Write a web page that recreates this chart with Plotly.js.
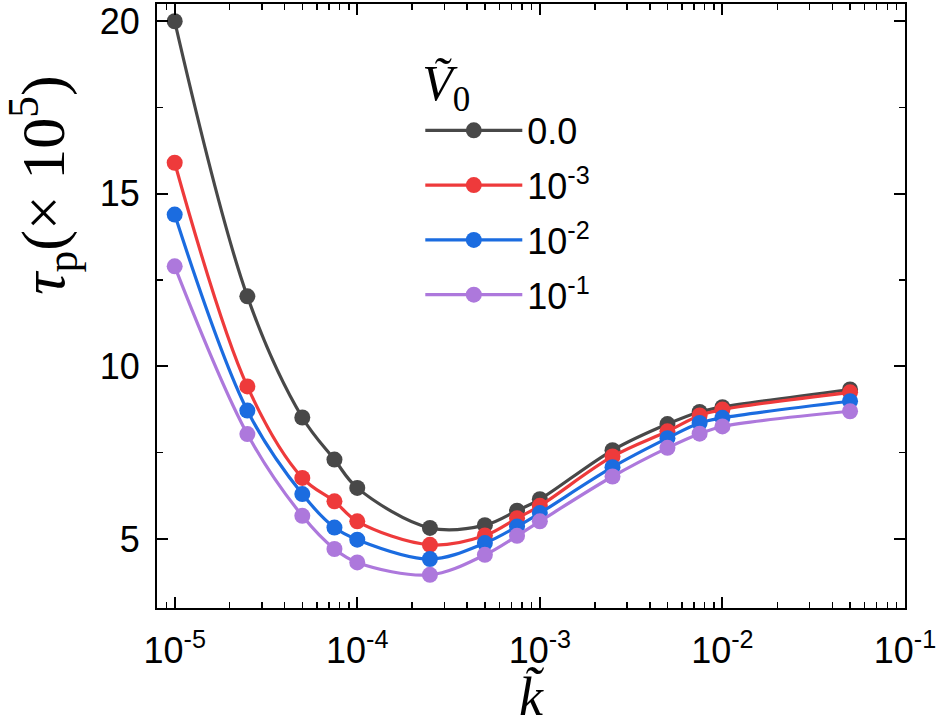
<!DOCTYPE html>
<html>
<head>
<meta charset="utf-8">
<script src="https://cdn.plot.ly/plotly-3.0.1.min.js"></script>
<style>html,body{margin:0;padding:0;background:#fff;}#chart{width:940px;height:727px;}</style>
</head>
<body>
<div id="chart"></div>
<script>
const kValues = [1e-5, 2.5e-5, 5e-5, 7.5e-5, 1e-4, 2.5e-4, 5e-4, 7.5e-4, 1e-3, 2.5e-3, 5e-3, 7.5e-3, 1e-2, 5e-2];
const tauV0_0    = [20.0, 12.03, 8.52, 7.30, 6.48, 5.32, 5.40, 5.82, 6.15, 7.57, 8.33, 8.68, 8.82, 9.33];
const tauV0_1em3 = [15.90, 9.42, 6.77, 6.09, 5.51, 4.83, 5.10, 5.60, 5.96, 7.39, 8.12, 8.58, 8.75, 9.25];
const tauV0_1em2 = [14.40, 8.72, 6.30, 5.33, 4.98, 4.42, 4.88, 5.36, 5.75, 7.08, 7.92, 8.36, 8.51, 8.99];
const tauV0_1em1 = [12.90, 8.04, 5.67, 4.71, 4.32, 3.96, 4.54, 5.09, 5.51, 6.81, 7.64, 8.05, 8.26, 8.70];
const seriesNames = ['0.0', '10<sup>-3</sup>', '10<sup>-2</sup>', '10<sup>-1</sup>'];
const seriesColors = ['#484848', '#ee3a3b', '#1b6ce0', '#ad78dc'];
const xTickVals = [1e-5, 1e-4, 1e-3, 1e-2, 1e-1];
const xTickText = ['10<sup>-5</sup>', '10<sup>-4</sup>', '10<sup>-3</sup>', '10<sup>-2</sup>', '10<sup>-1</sup>'];
const yTickVals = [5, 10, 15, 20];

const allY = [tauV0_0, tauV0_1em3, tauV0_1em2, tauV0_1em1];
const traces = allY.map((ys, i) => ({
  x: kValues, y: ys, type: 'scatter', mode: 'lines+markers',
  name: seriesNames[i], legendgroup: 'g' + i,
  line: {color: seriesColors[i], width: 3.2, shape: 'spline', smoothing: 1},
  marker: {color: seriesColors[i], size: 16}
}));

const axisFont = {family: 'Liberation Sans, Arial, sans-serif', size: 36, color: '#000'};
const layout = {
  width: 940, height: 727,
  margin: {l: 157, r: 35, t: 4, b: 119},
  paper_bgcolor: '#fff', plot_bgcolor: '#fff',
  showlegend: true,
  legend: {
    x: 0.352, y: 0.948, xanchor: 'left', yanchor: 'top',
    bgcolor: 'rgba(0,0,0,0)', borderwidth: 0,
    font: axisFont, tracegroupgap: 5, itemsizing: 'trace', itemwidth: 97,
    title: {text: '<i>V\u0303</i><sub>0</sub>', font: {family: 'Liberation Serif, Times New Roman, serif', size: 50, color: '#000'}}
  },
  xaxis: {
    type: 'log', range: [Math.log10(8e-6), -1],
    tickvals: xTickVals, ticktext: xTickText,
    ticks: 'inside', ticklen: 11, tickwidth: 2, tickcolor: '#000',
    minor: {ticks: 'inside', ticklen: 6, tickwidth: 1.5, tickcolor: '#000', dtick: 'D1'},
    showline: true, linewidth: 2, linecolor: '#000', mirror: 'allticks',
    showgrid: false, zeroline: false,
    tickfont: axisFont, ticklabelstandoff: 10,
    title: {text: '<i>k\u0303</i>', font: {family: 'Liberation Serif, Times New Roman, serif', size: 54, color: '#000'}, standoff: 12}
  },
  yaxis: {
    range: [3, 20.5],
    tickvals: yTickVals,
    ticks: 'inside', ticklen: 11, tickwidth: 2, tickcolor: '#000',
    minor: {ticks: 'inside', ticklen: 6, tickwidth: 1.5, tickcolor: '#000', dtick: 2.5},
    showline: true, linewidth: 2, linecolor: '#000', mirror: 'allticks',
    showgrid: false, zeroline: false,
    tickfont: axisFont, ticklabelstandoff: 8
  },
  annotations: [{
    xref: 'paper', yref: 'paper', x: -0.153, y: 0.70,
    xanchor: 'center', yanchor: 'middle', textangle: -90, showarrow: false,
    text: '<i>τ</i><sub>p</sub>(× 10<sup>5</sup>)',
    font: {family: 'Liberation Serif, Times New Roman, serif', size: 62, color: '#000'}
  }]
};
Plotly.newPlot('chart', traces, layout, {displayModeBar: false, staticPlot: true});
</script>
</body>
</html>
